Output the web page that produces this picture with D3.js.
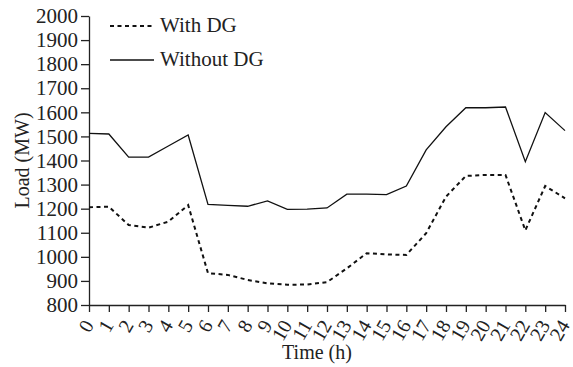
<!DOCTYPE html>
<html>
  <head>
    <title>Load with and without DG</title>
    <script src="https://cdn.jsdelivr.net/npm/d3@7"></script>
    <style>
      body { margin: 0; background: #fff; }
      text { font-family: "Liberation Serif", "Times New Roman", serif; fill: #222; }
    </style>
  </head>
  <body>
    <svg width="573" height="367" id="mainsvg"></svg>
    <script>
        const hours = d3.range(0, 25);
        const withDG = [1206, 1208, 1132, 1121, 1146, 1215, 932, 925, 904, 890, 884, 885, 895,
                        952, 1015, 1010, 1008, 1098, 1250, 1336, 1340, 1340, 1110, 1294, 1243];
        const withoutDG = [1513, 1510, 1414, 1414, 1460, 1506, 1218, 1214, 1210, 1232, 1197, 1198, 1203,
                           1260, 1260, 1258, 1294, 1444, 1540, 1619, 1619, 1622, 1395, 1599, 1524];
        const yTicks = d3.range(800, 2001, 100);
        const seriesNames = ['With DG', 'Without DG'];

        const svg = d3.select('#mainsvg');
        const margin = {top: 16, right: 8, bottom: 62, left: 89};
        const innerWidth = 565 - margin.left;
        const innerHeight = 305 - margin.top;
        const g = svg.append('g')
        .attr('transform', `translate(${margin.left}, ${margin.top})`);

        const x = d3.scaleLinear().domain([0, 24]).range([0, innerWidth]);
        const y = d3.scaleLinear().domain([800, 2000]).range([innerHeight, 0]);

        // axes
        const yAxis = g.append('g')
        .call(d3.axisLeft(y).tickValues(yTicks).tickFormat(d3.format('d'))
            .tickSize(8).tickPadding(3).tickSizeOuter(0));
        yAxis.selectAll('text').style('font-size', '21px');

        const xAxis = g.append('g')
        .attr('transform', `translate(0, ${innerHeight})`)
        .call(d3.axisBottom(x).tickValues(hours).tickFormat(d3.format('d')).tickSize(7).tickSizeOuter(0));
        xAxis.selectAll('text')
        .style('font-size', '20px')
        .attr('text-anchor', 'end')
        .attr('y', 0).attr('dy', 0)
        .attr('transform', 'translate(5, 20) rotate(-60)');

        svg.selectAll('.domain, .tick line').attr('stroke', '#222').attr('stroke-width', 1.3);

        // lines
        const line = d3.line().x((d, i) => x(hours[i])).y(d => y(d));
        g.append('path').datum(withDG)
        .attr('fill', 'none').attr('stroke', '#111').attr('stroke-width', 2)
        .attr('stroke-dasharray', '4,3.5')
        .attr('d', line);
        g.append('path').datum(withoutDG)
        .attr('fill', 'none').attr('stroke', '#111').attr('stroke-width', 1.3)
        .attr('d', line);

        // legend
        const legend = svg.append('g').attr('transform', 'translate(110, 26)');
        seriesNames.forEach((name, i) => {
            const row = legend.append('g').attr('transform', `translate(0, ${i * 34})`);
            row.append('line').attr('x1', 0).attr('x2', 44).attr('y1', 0).attr('y2', 0)
            .attr('stroke', '#111').attr('stroke-width', i === 0 ? 2 : 1.3)
            .attr('stroke-dasharray', i === 0 ? '4,3.5' : null);
            row.append('text').attr('x', 50).attr('y', 6).style('font-size', '21px').text(name);
        });

        // axis titles
        svg.append('text').attr('text-anchor', 'middle')
        .attr('transform', `translate(29, ${margin.top + innerHeight / 2}) rotate(-90)`)
        .style('font-size', '20px').text('Load (MW)');
        svg.append('text').attr('text-anchor', 'middle')
        .attr('x', 317).attr('y', 359)
        .style('font-size', '20px').text('Time (h)');
    </script>
  </body>
</html>
